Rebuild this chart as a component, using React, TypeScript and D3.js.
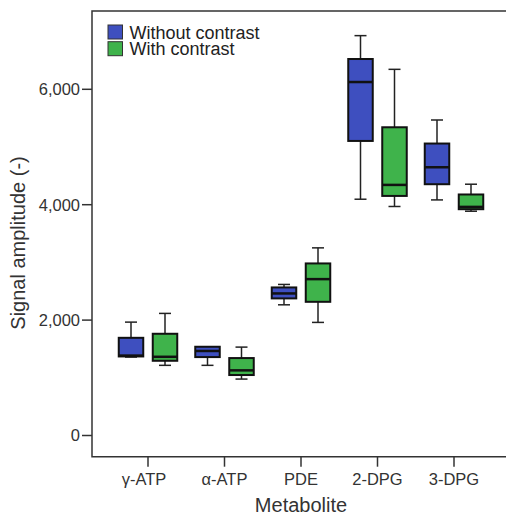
import React from "react";
import * as d3 from "d3";

const categories = ["γ-ATP", "α-ATP", "PDE", "2-DPG", "3-DPG"];
// [min, q1, median, q3, max]
const withoutContrast = [
  [1360, 1370, 1385, 1693, 1965],
  [1216, 1359, 1465, 1538, 1538],
  [2265, 2376, 2462, 2566, 2618],
  [4095, 5105, 6126, 6525, 6930],
  [4083, 4355, 4649, 5060, 5468],
];
const withContrast = [
  [1216, 1295, 1364, 1763, 2116],
  [978, 1048, 1129, 1342, 1532],
  [1960, 2317, 2710, 2982, 3252],
  [3969, 4152, 4343, 5342, 6346],
  [3887, 3922, 3962, 4177, 4355],
];
const yTicks = [0, 2000, 4000, 6000];
const seriesNames = ["Without contrast", "With contrast"];
const seriesColors = ["#3e4fbf", "#3fb34b"];

const W = 506;
const H = 516;
const FONT = "'Liberation Sans', Arial, sans-serif";

export default function App() {
  const y = d3.scaleLinear().domain([0, 6000]).range([435.5, 89.3]);
  const x = d3.scalePoint<string>().domain(categories).range([148, 454]);
  const left = 92;
  const top = 11;
  const bottom = 456.7;
  const boxW = 24.5;
  const capW = 12;
  const offsets = [-17, 17];
  const fmt = d3.format(",");
  const series = [withoutContrast, withContrast];

  return (
    <svg
      width={W}
      height={H}
      style={{ position: "absolute", left: 0, top: 0, background: "#fff" }}
      fontFamily={FONT}
    >
      {/* frame */}
      <path
        d={`M${W + 5},${top} H${left} V${bottom} H${W + 5}`}
        fill="none"
        stroke="#333"
        strokeWidth={1.5}
      />
      {/* y ticks */}
      {yTicks.map((t) => (
        <g key={t}>
          <line x1={82} x2={left} y1={y(t)} y2={y(t)} stroke="#333" strokeWidth={1.5} />
          <text
            x={80}
            y={y(t)}
            dy="0.36em"
            textAnchor="end"
            fontSize={16.5}
            fill="#333"
          >
            {fmt(t)}
          </text>
        </g>
      ))}
      {/* x ticks */}
      {categories.map((c, i) => (
        <g key={c}>
          <line x1={x(c)} x2={x(c)} y1={bottom} y2={bottom + 10} stroke="#333" strokeWidth={1.5} />
          <text
            x={(x(c) as number) + (i === 0 ? -4 : 0)}
            y={484.5}
            textAnchor="middle"
            fontSize={16.5}
            fill="#333"
          >
            {c}
          </text>
        </g>
      ))}
      <text x={(148 + 454) / 2} y={512} textAnchor="middle" fontSize={20} fill="#333">
        Metabolite
      </text>
      <text
        transform={`translate(25,${243}) rotate(-90)`}
        textAnchor="middle"
        fontSize={20}
        fill="#333"
      >
        Signal amplitude (-)
      </text>
      {/* boxes */}
      {series.map((data, si) =>
        data.map((d, i) => {
          const cx = (x(categories[i]) as number) + offsets[si];
          const [mn, q1, md, q3, mx] = d;
          return (
            <g key={`${si}-${i}`}>
              <line x1={cx} x2={cx} y1={y(mx)} y2={y(q3)} stroke="#222" strokeWidth={1.5} />
              <line x1={cx} x2={cx} y1={y(q1)} y2={y(mn)} stroke="#222" strokeWidth={1.5} />
              <line x1={cx - capW / 2} x2={cx + capW / 2} y1={y(mx)} y2={y(mx)} stroke="#222" strokeWidth={1.5} />
              <line x1={cx - capW / 2} x2={cx + capW / 2} y1={y(mn)} y2={y(mn)} stroke="#222" strokeWidth={1.5} />
              <rect
                x={cx - boxW / 2}
                y={y(q3)}
                width={boxW}
                height={y(q1) - y(q3)}
                fill={seriesColors[si]}
                stroke="#111"
                strokeWidth={2}
              />
              <line
                x1={cx - boxW / 2}
                x2={cx + boxW / 2}
                y1={y(md)}
                y2={y(md)}
                stroke="#111"
                strokeWidth={2.5}
              />
            </g>
          );
        })
      )}
      {/* legend */}
      {seriesNames.map((n, i) => (
        <g key={n}>
          <rect
            x={108}
            y={25 + i * 16.7}
            width={14.5}
            height={14}
            fill={seriesColors[i]}
            stroke="#333"
            strokeWidth={1}
          />
          <text x={129.5} y={38.5 + i * 16.7} fontSize={18} fill="#222">
            {n}
          </text>
        </g>
      ))}
    </svg>
  );
}
